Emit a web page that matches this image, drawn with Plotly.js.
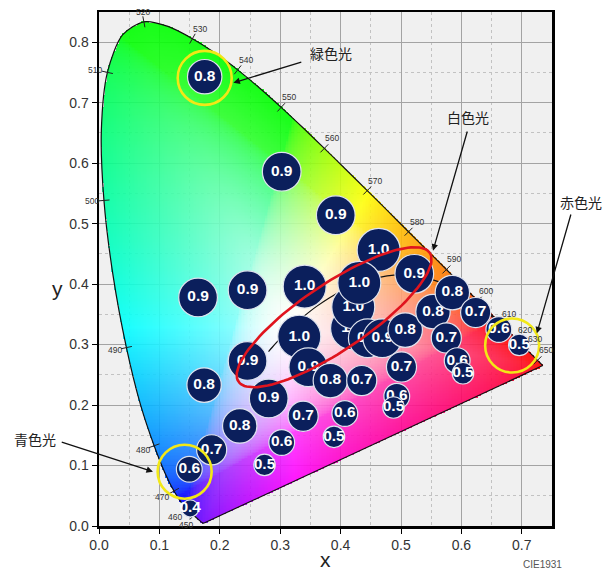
<!DOCTYPE html>
<html><head><meta charset="utf-8">
<script src="https://cdn.plot.ly/plotly-3.0.1.min.js"></script>
<style>html,body{margin:0;padding:0;background:#fff}#chart{width:613px;height:572px}</style>
</head><body><div id="chart"></div>
<script>
// ---- CIE 1931 spectral locus (wavelength, x, y) ----
const locusWl = [380,400,420,440,450,455,460,465,470,475,480,485,490,495,500,505,510,515,520,525,530,535,540,545,550,555,560,565,570,575,580,585,590,595,600,605,610,615,620,625,630,635,640,650,660,680,700];
const locusX = [0.1741,0.1733,0.1714,0.1644,0.1566,0.1510,0.1440,0.1355,0.1241,0.1096,0.0913,0.0687,0.0454,0.0235,0.0082,0.0039,0.0139,0.0389,0.0743,0.1142,0.1547,0.1929,0.2296,0.2658,0.3016,0.3373,0.3731,0.4087,0.4441,0.4788,0.5125,0.5448,0.5752,0.6029,0.6270,0.6482,0.6658,0.6801,0.6915,0.7006,0.7079,0.7140,0.7190,0.7260,0.7300,0.7334,0.7347];
const locusY = [0.0050,0.0048,0.0051,0.0109,0.0177,0.0227,0.0297,0.0399,0.0578,0.0868,0.1327,0.2007,0.2950,0.4127,0.5384,0.6548,0.7502,0.8120,0.8338,0.8262,0.8059,0.7816,0.7543,0.7243,0.6923,0.6589,0.6245,0.5896,0.5547,0.5202,0.4866,0.4544,0.4242,0.3965,0.3725,0.3514,0.3340,0.3197,0.3083,0.2993,0.2920,0.2859,0.2809,0.2740,0.2700,0.2666,0.2653];
const wlLabels = [450,460,470,480,490,500,510,520,530,540,550,560,570,580,590,600,610,620,630,650];

// ---- Planckian locus ----
const planckX = [0.6528,0.6251,0.5985,0.5732,0.5493,0.5267,0.5056,0.4770,0.4369,0.4053,0.3805,0.3608,0.3451,0.3325,0.3221,0.3135,0.3064,0.2952,0.2869,0.2807];
const planckY = [0.3444,0.3674,0.3858,0.3993,0.4082,0.4133,0.4152,0.4137,0.4041,0.3907,0.3768,0.3636,0.3516,0.3411,0.3318,0.3237,0.3166,0.3048,0.2956,0.2884];

// ---- measured points (x, y, value) ----
const ptX = [0.175,0.3025,0.392,0.463,0.522,0.164,0.246,0.3405,0.419,0.421,0.431,0.445,0.469,0.507,0.553,0.585,0.6236,0.575,0.662,0.6958,0.593,0.6026,0.3316,0.246,0.3465,0.383,0.435,0.5008,0.493,0.4876,0.174,0.281,0.338,0.407,0.389,0.233,0.1865,0.3025,0.274,0.1495,0.151];
const ptY = [0.743,0.586,0.514,0.4565,0.417,0.378,0.390,0.396,0.327,0.362,0.402,0.3105,0.3105,0.324,0.3545,0.386,0.353,0.311,0.325,0.2994,0.2734,0.2526,0.313,0.273,0.2625,0.2405,0.2405,0.263,0.2145,0.196,0.233,0.211,0.1815,0.186,0.1475,0.1655,0.126,0.138,0.101,0.0938,0.029];
const ptVal = [0.8,0.9,0.9,1.0,0.9,0.9,0.9,1.0,1.0,1.0,1.0,0.9,0.9,0.8,0.8,0.8,0.7,0.7,0.6,0.5,0.6,0.5,1.0,0.9,0.9,0.8,0.7,0.7,0.6,0.5,0.8,0.9,0.7,0.6,0.5,0.8,0.7,0.6,0.5,0.6,0.4];

// ---- highlight rings (green / red / blue light) ----
const ringX = [0.175,0.684,0.1418];
const ringY = [0.741,0.2985,0.0898];

// ---- callout labels ----
const calloutText = ['緑色光','白色光','赤色光','青色光'];

// ---------- gamut colour image ----------
const xw = 0.3127, yw = 0.329;
const polyX = locusX.concat([locusX[0]]), polyY = locusY.concat([locusY[0]]);
const NB = 1440, edgeD = new Float64Array(NB);
for (let k = 0; k < NB; k++) {
  const th = (k + 0.5) / NB * 2 * Math.PI - Math.PI;
  const dx = Math.cos(th), dy = Math.sin(th);
  let best = Infinity;
  for (let i = 0; i < polyX.length - 1; i++) {
    const ax = polyX[i] - xw, ay = polyY[i] - yw;
    const ex = polyX[i+1] - polyX[i], ey = polyY[i+1] - polyY[i];
    const den = dx * ey - dy * ex;
    if (Math.abs(den) < 1e-12) continue;
    const t = (ax * ey - ay * ex) / den;
    const s = (ax * dy - ay * dx) / den;
    if (s >= 0 && s <= 1 && t > 0 && t < best) best = t;
  }
  edgeD[k] = best;
}
function gam(c){ return c <= 0.0031308 ? 12.92*c : 1.055*Math.pow(c,1/2.4) - 0.055; }
const step = 0.0025, W = 300, H = 340;
const img = [];
for (let j = 0; j < H; j++) {
  const y = (j + 0.5) * step, row = new Array(W);
  for (let i = 0; i < W; i++) {
    const x = (i + 0.5) * step;
    const dx = x - xw, dy = y - yw, d = Math.hypot(dx, dy);
    let k = Math.floor((Math.atan2(dy, dx) + Math.PI) / (2*Math.PI) * NB); if (k >= NB) k = NB - 1;
    if (d > edgeD[k] * 1.004) { row[i] = [0,0,0,0]; continue; }
    const X = x / y, Y = 1, Z = (1 - x - y) / y;
    let R = 3.2406*X - 1.5372*Y - 0.4986*Z;
    let G = -0.9689*X + 1.8758*Y + 0.0415*Z;
    let B = 0.0557*X - 0.2040*Y + 1.0570*Z;
    R = Math.max(R,0); G = Math.max(G,0); B = Math.max(B,0);
    const m = Math.max(R,G,B) || 1;
    R = gam(R/m); G = gam(G/m); B = gam(B/m);
    const f = Math.pow(Math.min(d / edgeD[k], 1), 0.6);
    R = 1 - f*(1-R); G = 1 - f*(1-G); B = 1 - f*(1-B);
    row[i] = [Math.round(R*255), Math.round(G*255), Math.round(B*255), 0.9];
  }
  img.push(row);
}

const traces = [];
traces.push({type:'image', z: img, colormodel:'rgba', x0: step/2, dx: step, y0: step/2, dy: step, zsmooth:'fast', hoverinfo:'skip'});
traces.push({type:'scatter', mode:'lines', x: planckX, y: planckY, line:{color:'#111', width:1.2, shape:'spline'}, hoverinfo:'skip'});
traces.push({type:'scatter', mode:'lines', x: locusX, y: locusY, line:{color:'#111', width:1.2, shape:'spline', smoothing:0.8}, hoverinfo:'skip'});
traces.push({type:'scatter', mode:'lines', x: [locusX[locusX.length-1], locusX[0]], y: [locusY[locusY.length-1], locusY[0]], line:{color:'#111', width:1.2}, hoverinfo:'skip'});

// wavelength tick marks (perpendicular to locus)
const tkX = [], tkY = [], tkA = [];
wlLabels.forEach(w => {
  const i = locusWl.indexOf(w);
  const tx = locusX[i+1] - locusX[i-1], ty = locusY[i+1] - locusY[i-1];
  tkX.push(locusX[i]); tkY.push(locusY[i]);
  tkA.push(-Math.atan2(ty, tx) * 180 / Math.PI);
});
traces.push({type:'scatter', mode:'markers', x: tkX, y: tkY, marker:{symbol:'line-ns', size:8, angle: tkA, line:{color:'#222', width:1}}, hoverinfo:'skip', cliponaxis:false});

// measured circles, one trace each so later circles cover earlier labels
const navy = '#0b1f5c';
for (let n = 0; n < ptX.length; n++) {
  traces.push({type:'scatter', mode:'markers+text', x:[ptX[n]], y:[ptY[n]], text:[ptVal[n].toFixed(1)],
    textposition:'middle center', cliponaxis:false, hoverinfo:'skip',
    marker:{size: ptVal[n]*43, color: navy, line:{color:'#dfe3ee', width:1.2}},
    textfont:{family:'Liberation Sans, Arial, sans-serif', size:15.5, color:'#ffffff', weight:700}});
}

// red ellipse around the white-light group
const ellC = [0.3893, 0.3452], ellA = 0.1908, ellB = 0.055, ellRot = 33.9 * Math.PI / 180;
const elX = [], elY = [];
for (let t = 0; t <= 120; t++) {
  const u = t / 120 * 2 * Math.PI;
  const px = ellA * Math.cos(u), py = ellB * Math.sin(u);
  elX.push(ellC[0] + px*Math.cos(ellRot) - py*Math.sin(ellRot));
  elY.push(ellC[1] + px*Math.sin(ellRot) + py*Math.cos(ellRot));
}
traces.push({type:'scatter', mode:'lines', x: elX, y: elY, line:{color:'#e0141e', width:2.6}, hoverinfo:'skip'});

// yellow rings
traces.push({type:'scatter', mode:'markers', x: ringX, y: ringY, hoverinfo:'skip', cliponaxis:false,
  marker:{symbol:'circle-open', size:54, color:'#f2e816', line:{color:'#f2e816', width:2.6}}});

// annotations
const ann = [];
const lblShift = {450:[-8,-10],460:[-11,-9],470:[-11.5,-6],480:[-11,-4],490:[-11,-2.4],500:[-12,-0.5],510:[-12.6,2],520:[-1,9.6]};
wlLabels.forEach(w => {
  const i = locusWl.indexOf(w);
  const s = lblShift[w] || [8,10];
  ann.push({x: locusX[i], y: locusY[i], xref:'x', yref:'y', text: String(w), showarrow:false,
    xanchor:'center', yanchor:'middle',
    xshift: s[0], yshift: s[1], font:{family:'Liberation Sans, Arial', size:8.5, color:'#333'}});
});
const jpFont = {family:'Noto Sans CJK JP, sans-serif', size:14, color:'#222'};
const calloutPos = [[0.512,0.9197],[0.8148,0.7958],[1.0648,0.6306],[-0.1404,0.1686]];
calloutText.forEach((t, k) => ann.push({x: calloutPos[k][0], y: calloutPos[k][1], xref:'paper', yref:'paper', text: t, showarrow:false,
  xanchor:'center', yanchor:'middle', font: jpFont}));
const arrows = [[0.2225,0.733,69.4,-21],[0.553,0.4553,34.7,-120.7],[0.725,0.3187,34.4,-120.3],[0.0893,0.0898,-92.7,-30]];
arrows.forEach(a => ann.push({x:a[0], y:a[1], xref:'x', yref:'y', ax:a[2], ay:a[3], axref:'pixel', ayref:'pixel', text:'', showarrow:true,
  arrowhead:2, arrowsize:1, arrowwidth:1.3, arrowcolor:'#111', standoff:0, startstandoff:0}));
const titleFont = {family:'Liberation Sans, Arial', size:21, color:'#222'};
ann.push({x:0.5, y:-0.066, xref:'paper', yref:'paper', text:'x', showarrow:false, xanchor:'center', yanchor:'middle', font:titleFont});
ann.push({x:-0.092, y:0.4628, xref:'paper', yref:'paper', text:'y', showarrow:false, xanchor:'center', yanchor:'middle', font:titleFont});
ann.push({x:0.978, y:-0.0758, xref:'paper', yref:'paper', text:'CIE1931', showarrow:false, xanchor:'center', yanchor:'middle',
  font:{family:'Liberation Sans, Arial', size:10, color:'#555'}});

const axBase = {dtick:0.1, tick0:0, tickformat:'.1f', showgrid:true, gridcolor:'#a3a3a3', gridwidth:1,
  minor:{dtick:0.05, showgrid:true, gridcolor:'#c2c2c2', griddash:'dot', gridwidth:1, ticks:''},
  showline:true, linecolor:'#000', linewidth:2.5, mirror:true, ticks:'outside', ticklen:5, tickwidth:1, tickcolor:'#000',
  tickfont:{family:'Liberation Sans, Arial', size:14, color:'#333'}, zeroline:false, fixedrange:true, autorange:false};

const layout = {
  width:613, height:572, margin:{l:99, r:61, t:12, b:46},
  paper_bgcolor:'#ffffff', plot_bgcolor:'#f0f0f0', showlegend:false, hovermode:false,
  xaxis: Object.assign({}, axBase, {range:[0,0.75]}),
  yaxis: Object.assign({}, axBase, {range:[0,0.85], scaleanchor:false}),
  annotations: ann
};
Plotly.newPlot('chart', traces, layout, {displayModeBar:false, staticPlot:true});
</script></body></html>
